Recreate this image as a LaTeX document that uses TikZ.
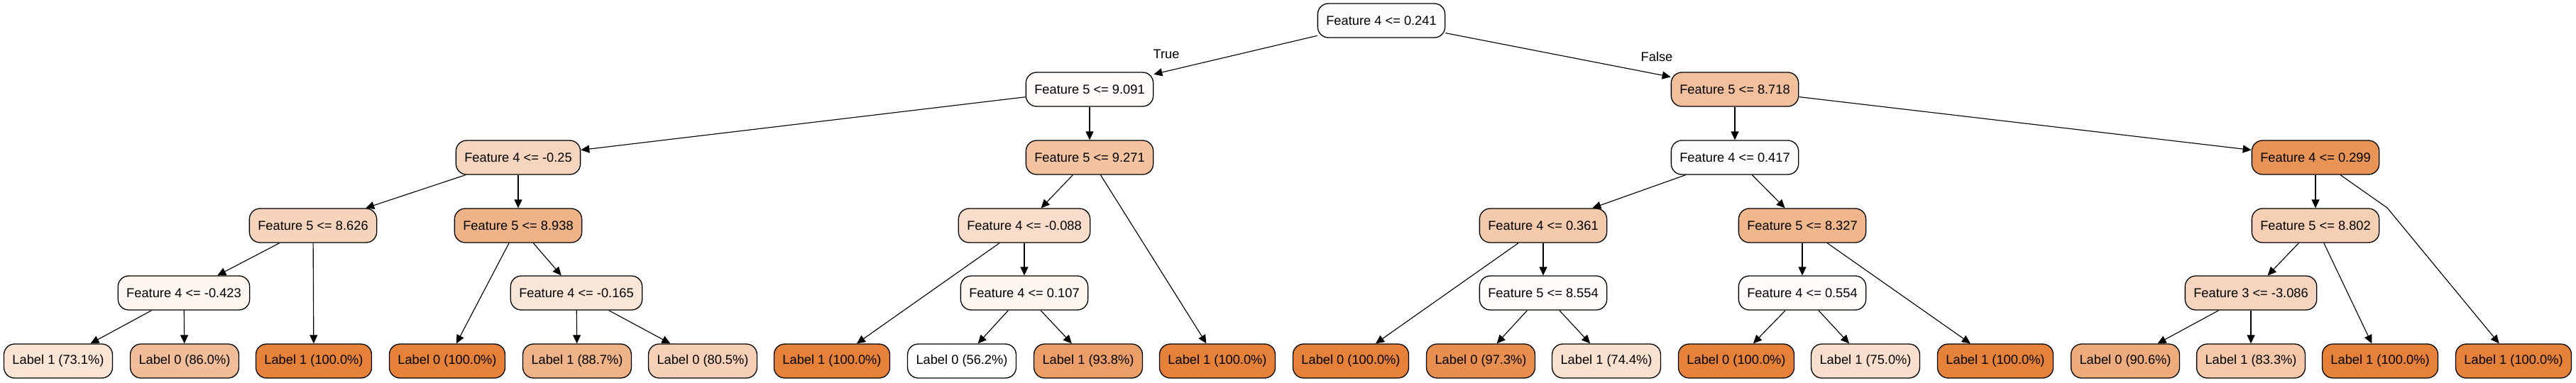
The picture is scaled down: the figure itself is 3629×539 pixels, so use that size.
\documentclass[tikz,border=0pt]{standalone}
\usepackage{fontspec}
\setmainfont{Liberation Sans}
\usetikzlibrary{arrows.meta}
\definecolor{leaf}{HTML}{E58139}

\begin{document}
\begin{tikzpicture}[x=0.02cm,y=-0.02cm,
    box/.style={draw,rounded corners=0.3cm,line width=0.75pt,minimum height=0.96cm,inner xsep=6.8pt,font=\fontsize{10.4}{12}\selectfont},
    edge/.style={-{Triangle[length=0.24cm,width=0.22cm]},line width=0.65pt},
    tag/.style={font=\fontsize{10.4}{12}\selectfont}]
                \useasboundingbox (0,0) rectangle (3629,539);
                % splits
                \node[box,fill=leaf!2!white] (r0) at (1946,29) {Feature 4 <= 0.241};
                \node[box,fill=leaf!3!white] (a1) at (1535,126) {Feature 5 <= 9.091};
                \node[box,fill=leaf!50!white] (a2) at (2444,126) {Feature 5 <= 8.718};
                \node[box,fill=leaf!33!white] (b1) at (730,222) {Feature 4 <= -0.25};
                \node[box,fill=leaf!48!white] (b2) at (1535,222) {Feature 5 <= 9.271};
                \node[box,fill=leaf!2!white] (b3) at (2444,222) {Feature 4 <= 0.417};
                \node[box,fill=leaf!85!white] (b4) at (3262,222) {Feature 4 <= 0.299};
                \node[box,fill=leaf!34!white] (c1) at (441,318) {Feature 5 <= 8.626};
                \node[box,fill=leaf!60!white] (c2) at (730,318) {Feature 5 <= 8.938};
                \node[box,fill=leaf!27!white] (c3) at (1443,318) {Feature 4 <= -0.088};
                \node[box,fill=leaf!42!white] (c4) at (2174,318) {Feature 4 <= 0.361};
                \node[box,fill=leaf!58!white] (c5) at (2539,318) {Feature 5 <= 8.327};
                \node[box,fill=leaf!38!white] (c6) at (3262,318) {Feature 5 <= 8.802};
                \node[box,fill=leaf!8!white] (d1) at (259,413) {Feature 4 <= -0.423};
                \node[box,fill=leaf!20!white] (d2) at (812,413) {Feature 4 <= -0.165};
                \node[box,fill=leaf!8!white] (d3) at (1443,413) {Feature 4 <= 0.107};
                \node[box,fill=leaf!3!white] (d4) at (2174,413) {Feature 5 <= 8.554};
                \node[box,fill=leaf!3!white] (d5) at (2539,413) {Feature 4 <= 0.554};
                \node[box,fill=leaf!33!white] (d6) at (3171,413) {Feature 3 <= -3.086};
                % leaves
                \node[box,fill=leaf!21!white] (e1) at (82,509) {Label 1 (73.1\%)};
                \node[box,fill=leaf!52!white] (e2) at (260,509) {Label 0 (86.0\%)};
                \node[box,fill=leaf] (e3) at (442,509) {Label 1 (100.0\%)};
                \node[box,fill=leaf] (e4) at (630,509) {Label 0 (100.0\%)};
                \node[box,fill=leaf!60!white] (e5) at (813,509) {Label 1 (88.7\%)};
                \node[box,fill=leaf!37!white] (e6) at (990,509) {Label 0 (80.5\%)};
                \node[box,fill=leaf] (e7) at (1172,509) {Label 1 (100.0\%)};
                \node[box,fill=leaf!1!white] (e8) at (1355,509) {Label 0 (56.2\%)};
                \node[box,fill=leaf!77!white] (e9) at (1533,509) {Label 1 (93.8\%)};
                \node[box,fill=leaf] (e10) at (1715,509) {Label 1 (100.0\%)};
                \node[box,fill=leaf] (e11) at (1903,509) {Label 0 (100.0\%)};
                \node[box,fill=leaf!89!white] (e12) at (2086,509) {Label 0 (97.3\%)};
                \node[box,fill=leaf!24!white] (e13) at (2263,509) {Label 1 (74.4\%)};
                \node[box,fill=leaf] (e14) at (2446,509) {Label 0 (100.0\%)};
                \node[box,fill=leaf!25!white] (e15) at (2628,509) {Label 1 (75.0\%)};
                \node[box,fill=leaf] (e16) at (2811,509) {Label 1 (100.0\%)};
                \node[box,fill=leaf!66!white] (e17) at (2994,509) {Label 0 (90.6\%)};
                \node[box,fill=leaf!44!white] (e18) at (3171,509) {Label 1 (83.3\%)};
                \node[box,fill=leaf] (e19) at (3353,509) {Label 1 (100.0\%)};
                \node[box,fill=leaf] (e20) at (3541,509) {Label 1 (100.0\%)};
                \node[tag] (t1) at (1643,76) {True};
                \node[tag] (t2) at (2334,80) {False};
                \coordinate (k1) at (3363,293);
                % edges
                \draw[edge] (r0)--(a1);
                \draw[edge] (r0)--(a2);
                \draw[edge] (a1)--(b1);
                \draw[edge] (a1)--(b2);
                \draw[edge] (a2)--(b3);
                \draw[edge] (a2)--(b4);
                \draw[edge] (b1)--(c1);
                \draw[edge] (b1)--(c2);
                \draw[edge] (b2)--(c3);
                \draw[edge] (b2)--(e10);
                \draw[edge] (b3)--(c4);
                \draw[edge] (b3)--(c5);
                \draw[edge] (b4)--(c6);
                \draw[edge] (b4)--(k1)--(e20);
                \draw[edge] (c1)--(d1);
                \draw[edge] (c1)--(e3);
                \draw[edge] (c2)--(e4);
                \draw[edge] (c2)--(d2);
                \draw[edge] (c3)--(e7);
                \draw[edge] (c3)--(d3);
                \draw[edge] (c4)--(e11);
                \draw[edge] (c4)--(d4);
                \draw[edge] (c5)--(d5);
                \draw[edge] (c5)--(e16);
                \draw[edge] (c6)--(d6);
                \draw[edge] (c6)--(e19);
                \draw[edge] (d1)--(e1);
                \draw[edge] (d1)--(e2);
                \draw[edge] (d2)--(e5);
                \draw[edge] (d2)--(e6);
                \draw[edge] (d3)--(e8);
                \draw[edge] (d3)--(e9);
                \draw[edge] (d4)--(e12);
                \draw[edge] (d4)--(e13);
                \draw[edge] (d5)--(e14);
                \draw[edge] (d5)--(e15);
                \draw[edge] (d6)--(e17);
                \draw[edge] (d6)--(e18);
\end{tikzpicture}
\end{document}
